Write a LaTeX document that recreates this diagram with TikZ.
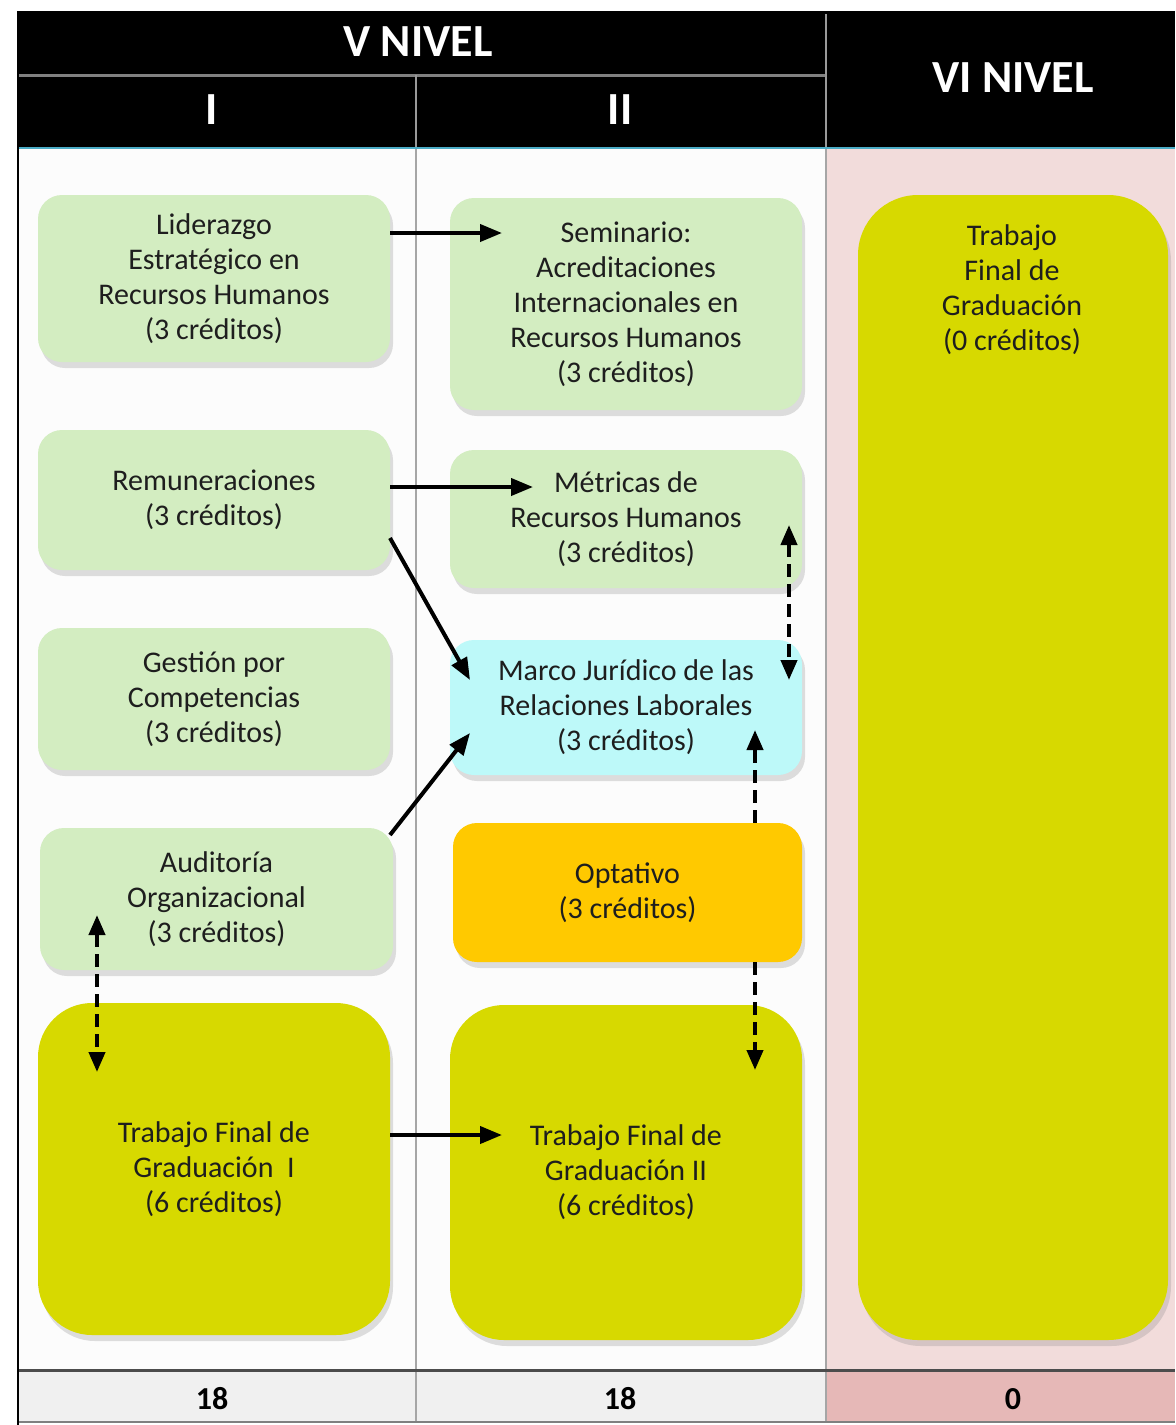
\documentclass[tikz,border=0pt]{standalone}
\usepackage{fontspec}
\setmainfont{Carlito}
\usetikzlibrary{arrows.meta,shadows,calc}
\definecolor{lgreen}{HTML}{D3EDC1}
\definecolor{lcyan}{HTML}{BDF9F9}
\definecolor{orng}{HTML}{FFC900}
\definecolor{ygreen}{HTML}{D7D900}
\definecolor{pinkbg}{HTML}{F2DCDB}
\definecolor{pinkrow}{HTML}{E6B8B7}
\definecolor{grayrow}{HTML}{F0F0F0}
\definecolor{txt}{HTML}{1E1E1E}
\definecolor{hdrline}{HTML}{4BACC6}
\begin{document}
\begin{tikzpicture}[x=0.5pt,y=-0.5pt,
  box/.style={rounded corners=12pt, minimum width=176pt, align=center, text=txt,
    font=\fontsize{15}{17.5}\selectfont, inner sep=2pt,
    drop shadow={opacity=0.25, shadow xshift=1.5pt, shadow yshift=-3pt}},
  bigbox/.style={box, rounded corners=27pt},
  hdr/.style={text=white, font=\fontsize{23}{26}\selectfont\bfseries},
  tot/.style={text=black, font=\fontsize{16}{18}\selectfont\bfseries},
  tip/.style={},
  arr/.style={line width=2pt, -{Triangle[length=11pt,width=8.5pt]}},
  darr/.style={line width=2pt, dash pattern=on 6.5pt off 3.5pt, {Triangle[length=10pt,width=8pt]}-{Triangle[length=10pt,width=8pt]}},
  dsarr/.style={line width=2pt, dash pattern=on 6.5pt off 3.5pt, -{Triangle[length=10pt,width=8pt]}}
]
\useasboundingbox (0,0) rectangle (1175,1425);
% table backgrounds
\fill[white] (0,0) rectangle (1175,1425);
\fill[white!98!gray] (18,147) rectangle (826,1370);
\fill[pinkbg] (826,147) rectangle (1175,1370);
\fill[grayrow] (18,1370) rectangle (826,1422);
\fill[pinkrow] (826,1370) rectangle (1175,1422);
\fill[black] (18,11) rectangle (1175,147);
\draw[gray, line width=1.5pt] (18,75) -- (826,75);
\draw[gray!80, line width=0.8pt] (416,75) -- (416,147);
\draw[gray!80, line width=0.8pt] (826,14) -- (826,147);
\draw[hdrline, line width=1pt] (18,148) -- (1175,148);
\draw[gray!70, line width=0.6pt] (416,149) -- (416,1422);
\draw[gray!70, line width=0.6pt] (826,149) -- (826,1422);
\draw[black!70, line width=1.5pt] (18,1370) -- (1175,1370);
\draw[gray, line width=0.8pt] (18,1422) -- (1175,1422);
\draw[black, line width=1pt] (18,11) -- (18,1425);

% headers
\node[hdr] (v5) at (418,42) {V NIVEL};
\node[hdr] (s1) at (212,110) {I};
\node[hdr] (s2) at (620,110) {II};
\node[hdr] (v6) at (1013,78) {VI NIVEL};

% totals
\node[tot] (t1) at (212,1399) {18};
\node[tot] (t2) at (620,1399) {18};
\node[tot] (t3) at (1013,1399) {0};

% course boxes
\node[box, fill=lgreen, minimum height=83.5pt] (lid) at (214,278.5)
  {Liderazgo\\Estratégico en\\Recursos Humanos\\(3 créditos)};
\node[box, fill=lgreen, minimum height=106pt] (sem) at (626,304)
  {Seminario:\\Acreditaciones\\Internacionales en\\Recursos Humanos\\(3 créditos)};
\node[box, fill=lgreen, minimum height=70pt] (rem) at (214,500)
  {Remuneraciones\\(3 créditos)};
\node[box, fill=lgreen, minimum height=69pt] (met) at (626,519)
  {Métricas de\\Recursos Humanos\\(3 créditos)};
\node[box, fill=lgreen, minimum height=71pt] (ges) at (214,699)
  {Gestión por\\Competencias\\(3 créditos)};
\node[box, fill=lcyan, minimum height=67.5pt] (mar) at (626,707.5)
  {Marco Jurídico de las\\Relaciones Laborales\\(3 créditos)};
\node[box, fill=lgreen, minimum width=176.5pt, minimum height=71pt] (aud) at (216.5,899)
  {Auditoría\\Organizacional\\(3 créditos)};
\node[box, fill=orng, minimum width=174.5pt, minimum height=69.5pt] (opt) at (627.5,892.5)
  {Optativo\\(3 créditos)};
\node[bigbox, fill=ygreen, minimum height=166pt] (tf1) at (214,1169)
  {Trabajo Final de\\Graduación\ \ I\\(6 créditos)};
\node[bigbox, fill=ygreen, minimum height=167.5pt] (tf2) at (626,1172.5)
  {Trabajo Final de\\Graduación II\\(6 créditos)};
\node[bigbox, rounded corners=30pt, fill=ygreen, minimum width=155pt, minimum height=572.5pt] (tf3) at (1013,767.5) {};
\node[align=center, text=txt, font=\fontsize{15}{17.5}\selectfont] (tf3t) at (1012,290)
  {Trabajo\\Final de\\Graduación\\(0 créditos)};

% arrow end points
\coordinate (a1) at (502,233);
\coordinate (a2) at (533,487);
\coordinate (a3s) at (390,538);
\coordinate (a3) at (470,680);
\coordinate (a4s) at (390,835);
\coordinate (a4) at (470,733);
\coordinate (a5s) at (789,525);
\coordinate (a5) at (789,680);
\coordinate (a6) at (755,730);
\coordinate (a7) at (755,1070);
\coordinate (a8s) at (97,915);
\coordinate (a8) at (97,1072);
\coordinate (a9) at (502,1135);

% connectors
\draw[arr] (lid.east |- a1) -- (a1);
\draw[arr] (rem.east |- a2) -- (a2);
\draw[arr] (a3s) -- (a3);
\draw[arr] (a4s) -- (a4);
\draw[darr] (a5s) -- (a5);
\draw[dsarr] (opt.north -| a6) -- (a6);
\draw[dsarr] (opt.south -| a7) -- (a7);
\draw[darr] (a8s) -- (a8);
\draw[arr] (tf1.east |- a9) -- (a9);
\end{tikzpicture}
\end{document}
